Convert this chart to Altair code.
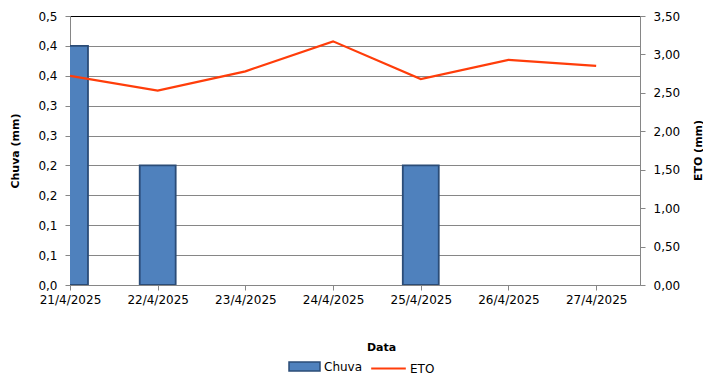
import altair as alt
import pandas as pd

dates = ["2025-04-21", "2025-04-22", "2025-04-23", "2025-04-24",
         "2025-04-25", "2025-04-26", "2025-04-27"]
chuva = [0.4, 0.2, 0.0, 0.0, 0.2, 0.0, 0.0]
eto = [2.72, 2.53, 2.78, 3.17, 2.68, 2.93, 2.85]
chuva_ticks = [0, 0.05, 0.10, 0.15, 0.20, 0.25, 0.30, 0.35, 0.40, 0.45]
eto_ticks = [0, 0.5, 1.0, 1.5, 2.0, 2.5, 3.0, 3.5]

df = pd.DataFrame({"date": dates, "chuva": chuva, "eto": eto,
                   "s1": "Chuva", "s2": "ETO"})

FONT = "DejaVu Sans"
GRID = "#868686"
BAR_FILL = "#4F81BD"
BAR_STROKE = "#2B4C77"
LINE = "#FF3D0A"

day_vals = [alt.DateTime(year=int(d[:4]), month=int(d[5:7]), date=int(d[8:]), utc=True) for d in dates]
xscale = alt.Scale(type="utc", domain=[
    alt.DateTime(year=2025, month=4, date=21, utc=True),
    alt.DateTime(year=2025, month=4, date=27, hours=12, utc=True)])

xaxis = alt.Axis(title="Data", labelExpr="utcFormat(datum.value, '%-d/%-m/%Y')", values=day_vals,
                 grid=False, domainColor=GRID, tickColor=GRID, tickSize=5,
                 labelPadding=4, labelColor="black", labelFontSize=12, labelFont=FONT,
                 labelOverlap=False, labelFlush=False,
                 titleFont=FONT, titleFontSize=11, titleFontWeight="bold",
                 titleX=311, titleY=62, titleAlign="center", titleBaseline="middle",
                 labelAngle=0)

base = alt.Chart(df).transform_calculate(
    x0="toDate(datum.date) - 0.205*86400000",
    x1="toDate(datum.date) + 0.205*86400000",
    d="toDate(datum.date)")

bars = base.transform_filter("datum.chuva > 0").mark_rect(
    stroke=BAR_STROKE, strokeWidth=1.8, clip=True).encode(
    x=alt.X("x0:T", scale=xscale, axis=xaxis),
    x2="x1:T",
    y=alt.Y("chuva:Q", scale=alt.Scale(domain=[0, 0.45], nice=False, zero=True),
            axis=alt.Axis(title="Chuva (mm)", values=chuva_ticks,
                          labelExpr="replace(format(round(datum.value*10 + 1e-9)/10, '.1f'), '.', ',')",
                          grid=True,
                          gridColor={"condition": {"test": "datum.value >= 0.449", "value": "black"}, "value": GRID},
                          domainColor=GRID, tickColor=GRID, tickSize=5, labelPadding=8,
                          labelColor="black", labelFontSize=12, labelFont=FONT,
                          titleFont=FONT, titleFontSize=11, titleFontWeight="bold",
                          titlePadding=17)),
    y2=alt.datum(0),
    fill=alt.Fill("s1:N", scale=alt.Scale(domain=["Chuva"], range=[BAR_FILL]),
                  legend=alt.Legend(title=None, orient="none", legendX=218, legendY=334,
                                    symbolType="M-1,-0.29H1V0.29H-1Z", symbolSize=961,
                                    symbolStrokeColor=BAR_STROKE, symbolStrokeWidth=1.5,
                                    symbolFillColor=BAR_FILL,
                                    labelFont=FONT, labelFontSize=12, labelColor="black",
                                    labelOffset=3)),
)

line = base.mark_line(strokeWidth=2.2, clip=True).encode(
    x=alt.X("d:T", scale=xscale),
    y=alt.Y("eto:Q", scale=alt.Scale(domain=[0, 3.5], nice=False),
            axis=alt.Axis(title="ETO (mm)", orient="right", values=eto_ticks,
                          labelExpr="replace(format(datum.value, '.2f'), '.', ',')",
                          grid=False, domainColor=GRID, tickColor=GRID, tickSize=5,
                          labelPadding=8, labelColor="black", labelFontSize=12, labelFont=FONT,
                          titleFont=FONT, titleFontSize=11, titleFontWeight="bold",
                          titleAngle=270, titleX=58, titleY=134, titleAlign="center",
                          titleBaseline="middle")),
    stroke=alt.Stroke("s2:N", scale=alt.Scale(domain=["ETO"], range=[LINE]),
                      legend=alt.Legend(title=None, orient="none", legendX=300, legendY=334,
                                        symbolType="stroke", symbolSize=1200,
                                        symbolStrokeWidth=2.2,
                                        labelFont=FONT, labelFontSize=12, labelColor="black",
                                        labelOffset=3)),
)

chart = alt.layer(bars, line).resolve_scale(y="independent").properties(
    width=570, height=269,
    padding={"left": 1, "top": 2, "right": 0, "bottom": 0},
).configure_view(stroke=None).configure(background="white")

chart.save("out.html", embed_options={"renderer": "svg", "actions": False})
